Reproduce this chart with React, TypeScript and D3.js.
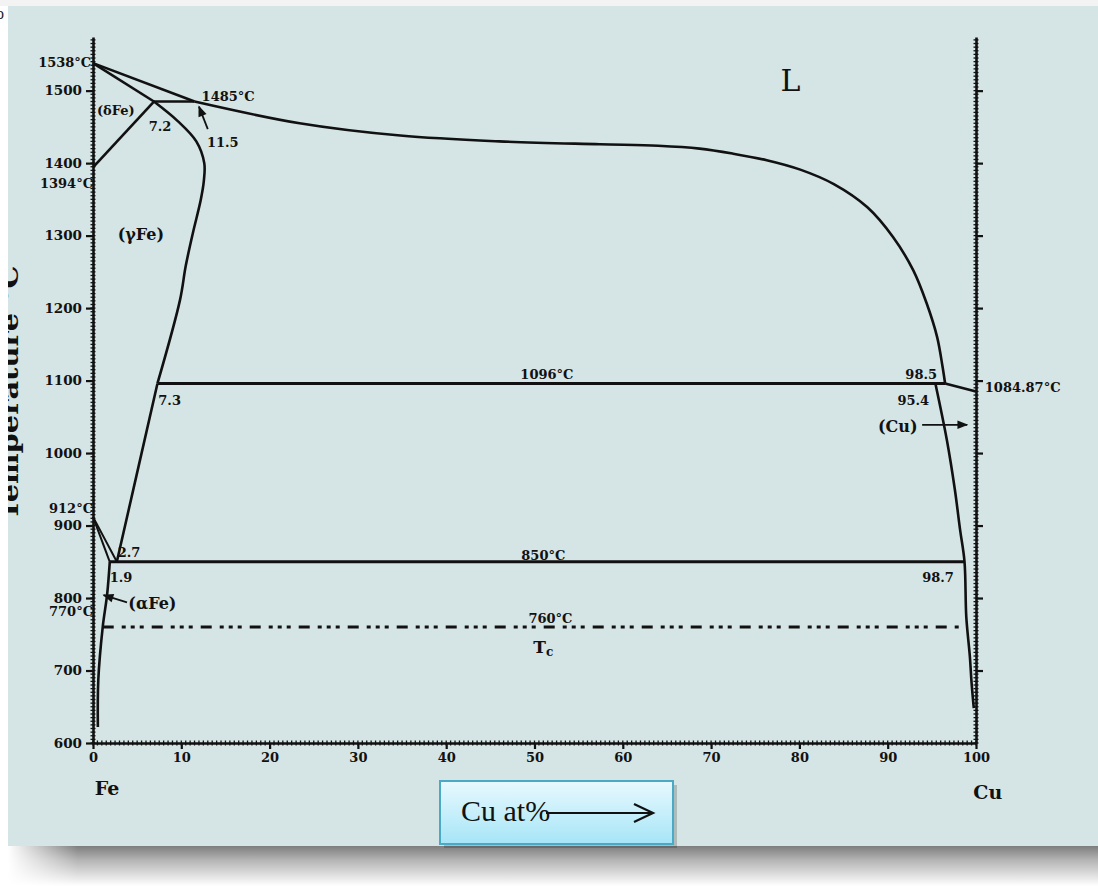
import { useEffect, useRef } from "react";
import * as d3 from "d3";

// ticks
const tempTicks = [600, 700, 800, 900, 1000, 1100, 1200, 1300, 1400, 1500];
const compTicks = [0, 10, 20, 30, 40, 50, 60, 70, 80, 90, 100];

// phase boundaries: [at% Cu, temperature °C]
const liquidusFe = [[0, 1538], [11.5, 1485]];
const liquidusCu = [
  [11.5, 1485], [23.4, 1455], [34.8, 1438], [46, 1430], [57.4, 1426], [64, 1424], [68.7, 1420],
  [72.5, 1413], [76.3, 1404], [80.1, 1391], [83.9, 1371], [87.7, 1339], [90.6, 1298],
  [92.9, 1252], [94.4, 1207], [95.6, 1160], [96.2, 1120], [96.5, 1096],
];
const deltaSolidus = [[0, 1538], [6.9, 1485]];
const deltaSolvus = [[0, 1394], [6.9, 1485]];
const gammaSolvus = [
  [6.9, 1485], [9.6, 1458], [11.7, 1430], [12.6, 1400], [12.55, 1375], [12.2, 1349],
  [11.3, 1303], [10.5, 1258], [9.85, 1211], [7.3, 1096],
];
const gammaLower = [[7.3, 1096], [5.0, 973], [2.7, 850]];
const peritectic = [[6.9, 1485], [11.5, 1485]];
const monotectic = [[7.3, 1096], [96.5, 1096]];
const cuMelt = [[96.5, 1096], [100, 1084.87]];
const cuSolvus = [
  [95.4, 1096], [96.7, 1018], [97.6, 950], [98.2, 894], [98.7, 850], [98.9, 774],
  [99.3, 720], [99.5, 683], [99.75, 648],
];
const eutectoid = [[1.9, 850], [98.7, 850]];
const gammaAlphaA = [[0, 912], [2.7, 850]];
const gammaAlphaB = [[0, 912], [1.9, 850]];
const alphaSolvus = [[1.9, 850], [1.6, 805], [1.1, 760], [0.6, 687], [0.55, 622]];
const curieLine = [[1.1, 760], [98.6, 760]];

// annotations: text, at%, °C, anchor
const labels = [
  ["1538°C", -0.2, 1539, "end"],
  ["1394°C", 0, 1372, "end"],
  ["912°C", 0, 924, "end"],
  ["770°C", 0, 781, "end"],
  ["(δFe)", 0.45, 1473, "start"],
  ["7.2", 6.3, 1450, "start"],
  ["1485°C", 12.3, 1492, "start"],
  ["11.5", 12.9, 1429, "start"],
  ["7.3", 7.4, 1073, "start"],
  ["1096°C", 51.4, 1108, "middle"],
  ["98.5", 92, 1108, "start"],
  ["95.4", 91.1, 1073, "start"],
  ["1084.87°C", 101, 1090, "start"],
  ["2.7", 2.8, 863, "start"],
  ["1.9", 1.9, 829, "start"],
  ["850°C", 51, 859, "middle"],
  ["98.7", 93.9, 829, "start"],
  ["760°C", 51.8, 772, "middle"],
];
const phaseLabels = [
  ["(γFe)", 2.8, 1301, "start"],
  ["(Cu)", 88.9, 1036, "start"],
  ["(αFe)", 4.0, 793, "start"],
];
const pointers = [
  [[3.85, 794], [1.2, 804]],
  [[93.9, 1039], [99.0, 1039]],
  [[13.0, 1447], [12.0, 1478]],
];

const W = 1098;
const H = 886;
const x = d3.scaleLinear().domain([0, 100]).range([93, 976]);
const y = d3.scaleLinear().domain([600, 1574]).range([743, 37]);
const line = d3.line<number[]>().x((d) => x(d[0])).y((d) => y(d[1]));
const smooth = d3.line<number[]>().x((d) => x(d[0])).y((d) => y(d[1])).curve(d3.curveCatmullRom.alpha(0.5));

const numFont = "DejaVu Serif, serif";

export default function App() {
  const leftRef = useRef<SVGGElement>(null);
  const rightRef = useRef<SVGGElement>(null);
  const bottomRef = useRef<SVGGElement>(null);

  useEffect(() => {
    const style = (g: any) => {
      g.select(".domain").attr("stroke", "#111").attr("stroke-width", 2.6);
      g.selectAll(".tick line").attr("stroke", "#111").attr("stroke-width", 2.2);
      g.selectAll(".tick text")
        .attr("fill", "#111")
        .attr("font-family", numFont)
        .attr("font-weight", "bold");
    };
    const left = d3.select(leftRef.current);
    left.call(d3.axisLeft(y).tickValues(tempTicks).tickSize(7).tickSizeOuter(0).tickPadding(4).tickFormat(d3.format("d")) as any);
    style(left);
    left.selectAll(".tick text").attr("font-size", 13.5);
    const right = d3.select(rightRef.current);
    right.call(d3.axisRight(y).tickValues(tempTicks.slice(1)).tickSize(7).tickSizeOuter(0).tickFormat(() => "") as any);
    style(right);
    const bottom = d3.select(bottomRef.current);
    bottom.call(d3.axisBottom(x).tickValues(compTicks).tickSize(6).tickSizeOuter(0).tickPadding(4) as any);
    style(bottom);
    bottom.selectAll(".tick text").attr("font-size", 13);
  }, []);

  const minorT = d3.range(600, 1574, 5);
  const minorC = d3.range(0, 100.01, 0.5);

  const curve = { fill: "none", stroke: "#111", strokeWidth: 2.6, strokeLinejoin: "round" as const };

  return (
    <svg width={W} height={H} style={{ position: "absolute", left: 0, top: 0 }} xmlns="http://www.w3.org/2000/svg">
      <defs>
        <linearGradient id="shadowV" x1="0" y1="0" x2="0" y2="1">
          <stop offset="0" stopColor="#7d7d7d" />
          <stop offset="0.35" stopColor="#b4b4b4" />
          <stop offset="1" stopColor="#ffffff" />
        </linearGradient>
        <linearGradient id="fadeL" x1="0" y1="0" x2="1" y2="0">
          <stop offset="0" stopColor="#ffffff" stopOpacity="1" />
          <stop offset="1" stopColor="#ffffff" stopOpacity="0" />
        </linearGradient>
        <linearGradient id="boxGrad" x1="0" y1="0" x2="0" y2="1">
          <stop offset="0" stopColor="#e8f9fe" />
          <stop offset="1" stopColor="#a6e5f7" />
        </linearGradient>
        <clipPath id="panelClip">
          <rect x={8} y={6} width={W - 8} height={840} />
        </clipPath>
        <marker id="head" viewBox="0 0 10 10" refX="9" refY="5" markerWidth="7" markerHeight="6" orient="auto">
          <path d="M0,1 L10,5 L0,9 Z" fill="#111" />
        </marker>
      </defs>

      <rect x={0} y={0} width={W} height={H} fill="#ffffff" />
      <rect x={0} y={0} width={W} height={6} fill="#f3f3f3" />
      <rect x={8} y={846} width={W - 8} height={40} fill="url(#shadowV)" />
      <rect x={8} y={846} width={70} height={40} fill="url(#fadeL)" />
      <rect x={8} y={6} width={W - 8} height={840} fill="#d5e4e4" />
      <text x={-4} y={19} fontFamily="Liberation Serif, serif" fontSize={16} fill="#222">o</text>

      <g clipPath="url(#panelClip)">
        <text
          transform="translate(18,393) rotate(-90)"
          textAnchor="middle"
          fontFamily={numFont}
          fontWeight="bold"
          fontSize={24}
          textLength={255}
          lengthAdjust="spacingAndGlyphs"
          fill="#111"
        >
          Temperature °C
        </text>
      </g>

      {/* phase boundaries */}
      <path d={line(liquidusFe as any) || ""} {...curve} />
      <path d={smooth(liquidusCu as any) || ""} {...curve} />
      <path d={line(deltaSolidus as any) || ""} {...curve} />
      <path d={line(deltaSolvus as any) || ""} {...curve} />
      <path d={smooth(gammaSolvus as any) || ""} {...curve} />
      <path d={line(gammaLower as any) || ""} {...curve} />
      <path d={line(peritectic as any) || ""} {...curve} />
      <path d={line(monotectic as any) || ""} {...curve} strokeWidth={3} />
      <path d={line(cuMelt as any) || ""} {...curve} />
      <path d={smooth(cuSolvus as any) || ""} {...curve} />
      <path d={line(eutectoid as any) || ""} {...curve} strokeWidth={3} />
      <path d={line(gammaAlphaA as any) || ""} {...curve} strokeWidth={2} />
      <path d={line(gammaAlphaB as any) || ""} {...curve} strokeWidth={2} />
      <path d={smooth(alphaSolvus as any) || ""} {...curve} />
      <path d={line(curieLine as any) || ""} {...curve} strokeWidth={3} strokeDasharray="11 8 4 5 4 5 4 8" />

      {pointers.map((p, i) => (
        <path key={i} d={line(p as any) || ""} fill="none" stroke="#111" strokeWidth={1.8} markerEnd="url(#head)" />
      ))}

      {/* axes */}
      <g ref={leftRef} transform={`translate(${x(0)},0)`} />
      <g ref={rightRef} transform={`translate(${x(100)},0)`} />
      <g ref={bottomRef} transform={`translate(0,${y(600)})`} />
      {minorT.map((t) => (
        <g key={"t" + t}>
          <line x1={x(0) - 2.5} x2={x(0) + 2.5} y1={y(t)} y2={y(t)} stroke="#111" strokeWidth={1.3} />
          <line x1={x(100) - 2.5} x2={x(100) + 2.5} y1={y(t)} y2={y(t)} stroke="#111" strokeWidth={1.3} />
        </g>
      ))}
      {minorC.map((c) => (
        <line key={"c" + c} x1={x(c)} x2={x(c)} y1={y(600) - 2.5} y2={y(600) + 2.5} stroke="#111" strokeWidth={1.3} />
      ))}

      {/* labels */}
      {labels.map(([t, c, v, a]) => (
        <text
          key={t as string}
          x={x(c as number)}
          y={y(v as number)}
          textAnchor={a as any}
          dominantBaseline="central"
          fontFamily={numFont}
          fontWeight="bold"
          fontSize={13}
          fill="#111"
        >
          {t}
        </text>
      ))}
      {phaseLabels.map(([t, c, v, a]) => (
        <text
          key={t as string}
          x={x(c as number)}
          y={y(v as number)}
          textAnchor={a as any}
          dominantBaseline="central"
          fontFamily={numFont}
          fontWeight="bold"
          fontSize={16}
          fill="#111"
        >
          {t}
        </text>
      ))}
      <text x={x(51)} y={y(732)} textAnchor="middle" dominantBaseline="central" fontFamily={numFont} fontWeight="bold" fontSize={17} fill="#111">
        T<tspan fontSize={12} dy={5}>c</tspan>
      </text>
      <text x={x(79)} y={y(1514)} textAnchor="middle" dominantBaseline="central" fontFamily="DejaVu Serif, serif" fontSize={30} fill="#111">
        L
      </text>
      <text x={x(0.2)} y={y(538)} dominantBaseline="central" fontFamily={numFont} fontWeight="bold" fontSize={19} fill="#111">
        Fe
      </text>
      <text x={x(99.7)} y={y(532)} dominantBaseline="central" fontFamily={numFont} fontWeight="bold" fontSize={19} fill="#111">
        Cu
      </text>

      {/* x-axis title box */}
      <rect x={444} y={785} width={233} height={63} fill="#000" opacity={0.18} />
      <rect x={440} y={781} width={233} height={63} fill="url(#boxGrad)" stroke="#4aaac6" strokeWidth={2} />
      <text x={461} y={821} fontFamily="Liberation Serif, Times New Roman, serif" fontSize={30} fill="#111">
        Cu at%
      </text>
      <line x1={546} x2={652} y1={813} y2={813} stroke="#111" strokeWidth={2} />
      <path d="M634,804 L653,813 L634,822" fill="none" stroke="#111" strokeWidth={2.2} />
    </svg>
  );
}
